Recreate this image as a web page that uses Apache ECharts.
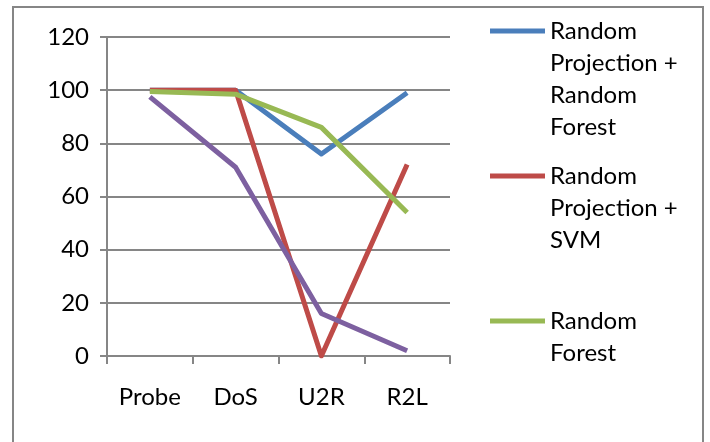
<!DOCTYPE html>
<html>
<head>
<meta charset="utf-8">
<script src="https://cdn.jsdelivr.net/npm/echarts@6/dist/echarts.min.js"></script>
<style>
html,body{margin:0;padding:0;background:#fff;}
#c{width:710px;height:442px;}
</style>
</head>
<body>
<div id="c"></div>
<script>
var categories = ['Probe', 'DoS', 'U2R', 'R2L'];
var seriesNames = ['Random Projection + Random Forest', 'Random Projection + SVM', 'Random Forest', 'Series 4'];
var legendLabels = ['Random\nProjection +\nRandom\nForest', 'Random\nProjection +\nSVM', 'Random\nForest'];
var rpRf = [100, 100, 76, 99];
var rpSvm = [100, 100, 0, 72];
var rf = [99.5, 98.5, 86, 54];
var s4 = [97.5, 71, 16, 2];
var yTicks = [0, 20, 40, 60, 80, 100, 120];

var colors = ['#4A7EBB', '#BE4B48', '#98B954', '#7D60A0'];
var font = 'Lato, "Liberation Sans", sans-serif';

var chart = echarts.init(document.getElementById('c'));

function mkLegend(i, top) {
  var lines = legendLabels[i].split('\n').length;
  return {
    data: [seriesNames[i]],
    left: 490,
    top: top,
    orient: 'vertical',
    padding: 0,
    icon: 'rect',
    itemWidth: 55,
    itemHeight: 5,
    itemGap: 4,
    selectedMode: false,
    formatter: function () {
      return new Array(lines).join('\n') + legendLabels[i];
    },
    textStyle: { fontFamily: font, fontSize: 24, lineHeight: 32, color: '#000' }
  };
}

var dataArr = [rpRf, rpSvm, rf, s4];

chart.setOption({
  animation: false,
  color: colors,
  graphic: [{
    type: 'rect',
    shape: { x: 13, y: 7, width: 690, height: 460 },
    style: { fill: 'none', stroke: '#868686', lineWidth: 2 },
    silent: true, z: -1
  }],
  grid: { left: 107, right: 260, top: 37, bottom: 86, containLabel: false },
  legend: [
    mkLegend(0, 31 - 3.5 * 32),
    mkLegend(1, 176 - 2.5 * 32),
    mkLegend(2, 321 - 1.5 * 32)
  ],
  xAxis: {
    type: 'category',
    data: categories,
    boundaryGap: true,
    axisLine: { lineStyle: { color: '#868686', width: 2 } },
    axisTick: { show: true, length: 8, inside: false, lineStyle: { color: '#868686', width: 2 } },
    axisLabel: { margin: 29, color: '#000', fontFamily: font, fontSize: 24 },
    splitLine: { show: false }
  },
  yAxis: {
    type: 'value',
    min: 0, max: 120, interval: 20,
    axisLine: { show: true, lineStyle: { color: '#868686', width: 2 } },
    axisTick: { show: true, length: 7, lineStyle: { color: '#868686', width: 2 } },
    axisLabel: {
      margin: 18, color: '#000', fontFamily: font, fontSize: 24,
      formatter: function (v) { return yTicks.indexOf(v) >= 0 ? String(v) : ''; }
    },
    splitLine: { show: true, lineStyle: { color: '#868686', width: 2 } }
  },
  series: dataArr.map(function (d, i) {
    return {
      name: seriesNames[i],
      type: 'line',
      data: d,
      symbol: 'none',
      lineStyle: { width: 5, color: colors[i], cap: 'butt', join: 'round' },
      z: 2 + i
    };
  })
});
</script>
</body>
</html>
